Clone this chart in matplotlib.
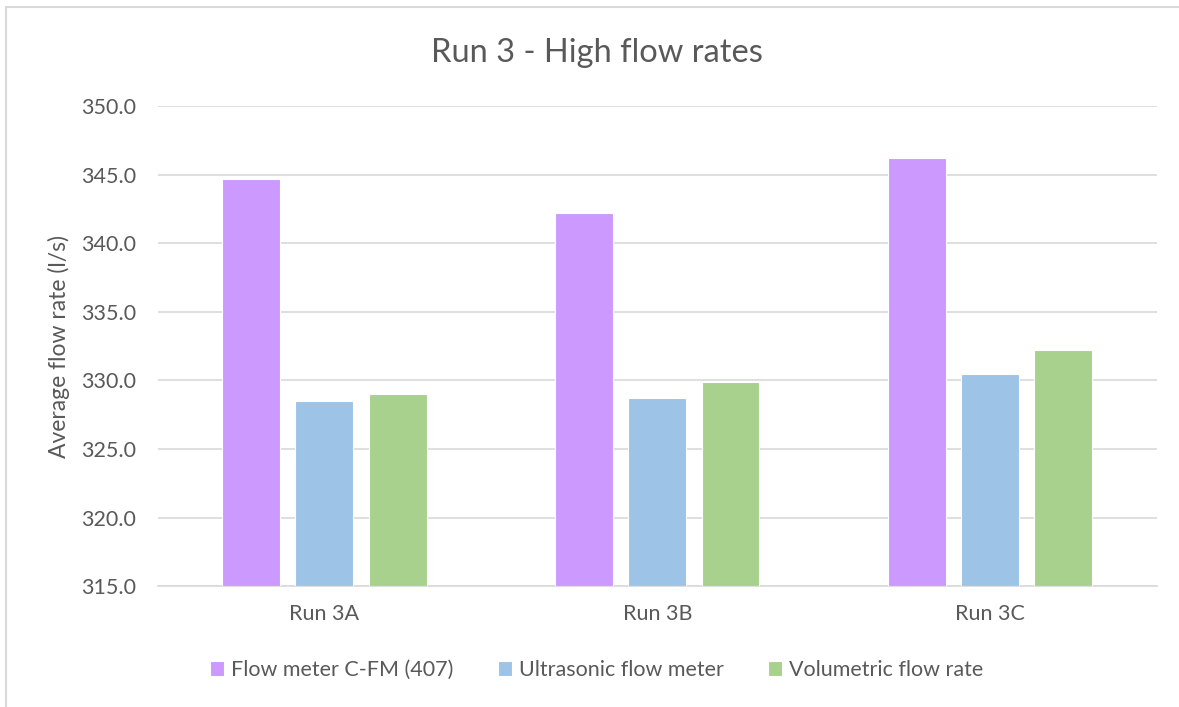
import numpy as np
import matplotlib.pyplot as plt
from matplotlib.patches import Rectangle

# Datos
runs = ['Run 3A', 'Run 3B', 'Run 3C']
series = ['Flow meter C-FM (407)', 'Ultrasonic flow meter', 'Volumetric flow rate']
flow_meter = [344.7, 342.2, 346.2]
ultrasonic = [328.5, 328.7, 330.5]
volumetric = [329.0, 329.9, 332.2]
colors = ['#CC99FF', '#9DC3E6', '#A9D18E']

text_color = '#595959'
grid_color = '#D9D9D9'
plt.rcParams['font.family'] = ['Lato', 'DejaVu Sans']

fig = plt.figure(figsize=(11.79, 7.07), dpi=100)
ax = fig.add_axes([0.134, 0.171, 0.847, 0.679])

x = np.arange(len(runs))
width = 0.174
step = 0.22
for i, (vals, name) in enumerate(zip([flow_meter, ultrasonic, volumetric], series)):
    ax.bar(x + (i - 1) * step, np.array(vals) - 315, width, bottom=315,
           color=colors[i], label=name, edgecolor='white', linewidth=0.8, zorder=3)

ax.set_xlim(-0.5, 2.5)
ax.set_ylim(315, 350)
ax.set_yticks(np.arange(315, 351, 5))
ax.set_yticklabels([f'{v:.1f}' for v in np.arange(315, 351, 5)])
ax.set_xticks(x)
ax.set_xticklabels(runs)
ax.tick_params(axis='both', length=0, colors=text_color, labelsize=15.5)
ax.tick_params(axis='y', pad=15.5)
ax.tick_params(axis='x', pad=13)
ax.grid(axis='y', color=grid_color, linewidth=1.2, zorder=0)
for s in ['top', 'right', 'left']:
    ax.spines[s].set_visible(False)
ax.spines['bottom'].set_color(grid_color)
ax.spines['bottom'].set_linewidth(1.2)

ax.set_ylabel('Average flow rate (l/s)', color=text_color, fontsize=16.5)
ax.yaxis.set_label_coords(-0.088, 0.5)

fig.text(0.506, 0.925, 'Run 3 - High flow rates', ha='center', va='center',
         color=text_color, fontsize=23.5)

leg = fig.legend(loc='center', bbox_to_anchor=(0.506, 0.052), ncol=3, frameon=False,
                 fontsize=15.5, handlelength=0.65, handleheight=0.65,
                 handletextpad=0.33, columnspacing=2.05)
for t in leg.get_texts():
    t.set_color(text_color)

# borde del área del gráfico
fig.patches.append(Rectangle((0.0051, -0.1), 1.2, 1.09, transform=fig.transFigure,
                             fill=False, edgecolor='#D9D9D9', linewidth=1.5))

fig.savefig('out.png', dpi=100)
